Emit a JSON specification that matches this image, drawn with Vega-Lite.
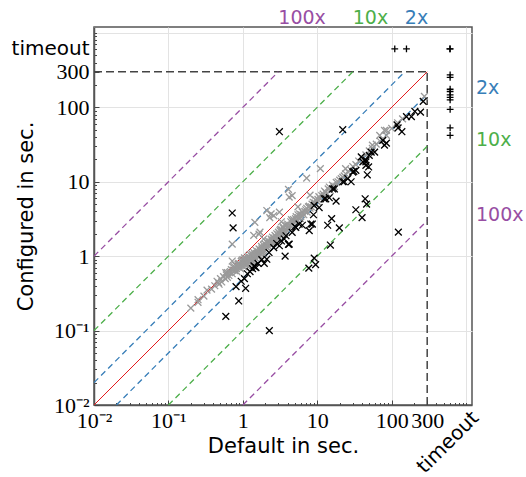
{
  "$schema": "https://vega.github.io/schema/vega-lite/v6.json",
  "width": 378,
  "height": 378,
  "autosize": {"type": "none"},
  "padding": {"left": 94, "top": 27, "right": 54, "bottom": 72},
  "background": "white",
  "config": {
    "view": {"stroke": "#555555", "strokeWidth": 1.5},
    "axis": {
      "domainColor": "#555555",
      "domainWidth": 1.5,
      "tickColor": "#444444",
      "tickWidth": 1,
      "gridColor": "#e3e3e3",
      "gridWidth": 1,
      "labelColor": "#000000",
      "labelFont": "Liberation Serif",
      "labelFontSize": 22,
      "labelOverlap": false,
      "labelFlush": false,
      "labelBound": false,
      "titleFont": "DejaVu Sans",
      "titleFontSize": 21,
      "titleFontWeight": "normal",
      "titleColor": "#000000"
    }
  },
  "datasets": {
    "lines": [
      {"g": "eq", "x": 0.01, "y": 0.01}, {"g": "eq", "x": 300, "y": 300},
      {"g": "b1", "x": 0.01, "y": 0.02}, {"g": "b1", "x": 150, "y": 300},
      {"g": "b2", "x": 0.02, "y": 0.01}, {"g": "b2", "x": 300, "y": 150},
      {"g": "g1", "x": 0.01, "y": 0.1}, {"g": "g1", "x": 30, "y": 300},
      {"g": "g2", "x": 0.1, "y": 0.01}, {"g": "g2", "x": 300, "y": 30},
      {"g": "p1", "x": 0.01, "y": 1}, {"g": "p1", "x": 3, "y": 300},
      {"g": "p2", "x": 1, "y": 0.01}, {"g": "p2", "x": 300, "y": 3},
      {"g": "h", "x": 0.01, "y": 300}, {"g": "h", "x": 300, "y": 300},
      {"g": "v", "x": 300, "y": 0.01}, {"g": "v", "x": 300, "y": 300}
    ],
    "lbl": [
      {"s": "100x", "x": 3, "y": 1200, "side": "top"},
      {"s": "10x", "x": 30, "y": 1200, "side": "top"},
      {"s": "2x", "x": 150, "y": 1200, "side": "top"},
      {"s": "2x", "x": 1200, "y": 150, "side": "right"},
      {"s": "10x", "x": 1200, "y": 30, "side": "right"},
      {"s": "100x", "x": 1200, "y": 3, "side": "right"}
    ],
    "tl": [{"t": "timeout", "x": 610, "y": 0.01}],
    "pts": [
      {"x":0.2,"y":0.2,"k":"g"},{"x":0.25,"y":0.24,"k":"g"},{"x":0.3,"y":0.29,"k":"g"},{"x":0.33,"y":0.35,"k":"g"},{"x":0.38,"y":0.36,"k":"g"},
      {"x":0.42,"y":0.4,"k":"g"},{"x":0.45,"y":0.46,"k":"g"},{"x":0.48,"y":0.42,"k":"g"},{"x":0.5,"y":0.5,"k":"g"},{"x":0.52,"y":0.45,"k":"g"},
      {"x":0.55,"y":0.53,"k":"g"},{"x":0.58,"y":0.5,"k":"g"},{"x":0.6,"y":0.56,"k":"g"},{"x":0.62,"y":0.6,"k":"g"},{"x":0.65,"y":0.55,"k":"g"},
      {"x":0.68,"y":0.62,"k":"g"},{"x":0.7,"y":0.66,"k":"g"},{"x":0.72,"y":0.58,"k":"g"},{"x":0.75,"y":0.7,"k":"g"},{"x":0.78,"y":0.64,"k":"g"},
      {"x":0.8,"y":0.75,"k":"g"},{"x":0.82,"y":0.68,"k":"g"},{"x":0.85,"y":0.72,"k":"g"},{"x":0.88,"y":0.8,"k":"g"},{"x":0.9,"y":0.7,"k":"g"},
      {"x":0.92,"y":0.78,"k":"g"},{"x":0.95,"y":0.85,"k":"g"},{"x":0.98,"y":0.75,"k":"g"},{"x":1.0,"y":0.9,"k":"g"},{"x":1.02,"y":0.8,"k":"g"},
      {"x":1.05,"y":0.95,"k":"g"},{"x":1.08,"y":0.85,"k":"g"},{"x":1.1,"y":0.78,"k":"g"},{"x":1.12,"y":0.92,"k":"g"},{"x":1.15,"y":0.88,"k":"g"},
      {"x":1.18,"y":1.0,"k":"g"},{"x":1.2,"y":0.9,"k":"g"},{"x":1.22,"y":0.82,"k":"g"},{"x":1.25,"y":1.05,"k":"g"},{"x":1.28,"y":0.95,"k":"g"},
      {"x":1.3,"y":0.88,"k":"g"},{"x":1.35,"y":1.0,"k":"g"},{"x":1.4,"y":1.12,"k":"g"},{"x":1.42,"y":0.98,"k":"g"},{"x":1.45,"y":1.05,"k":"g"},
      {"x":1.5,"y":1.2,"k":"g"},{"x":1.52,"y":1.08,"k":"g"},{"x":1.55,"y":1.0,"k":"g"},{"x":1.6,"y":1.15,"k":"g"},{"x":1.65,"y":1.25,"k":"g"},
      {"x":1.7,"y":1.1,"k":"g"},{"x":1.72,"y":1.2,"k":"g"},{"x":1.78,"y":1.35,"k":"g"},{"x":1.8,"y":1.25,"k":"g"},{"x":1.85,"y":1.18,"k":"g"},
      {"x":1.9,"y":1.4,"k":"g"},{"x":1.95,"y":1.3,"k":"g"},{"x":2.0,"y":1.45,"k":"g"},{"x":2.05,"y":1.35,"k":"g"},{"x":2.1,"y":1.55,"k":"g"},
      {"x":2.15,"y":1.4,"k":"g"},{"x":2.2,"y":1.6,"k":"g"},{"x":2.25,"y":1.5,"k":"g"},{"x":2.3,"y":1.45,"k":"g"},{"x":2.4,"y":1.7,"k":"g"},
      {"x":2.45,"y":1.6,"k":"g"},{"x":2.5,"y":1.8,"k":"g"},{"x":2.55,"y":1.65,"k":"g"},{"x":2.6,"y":1.55,"k":"g"},{"x":2.7,"y":1.9,"k":"g"},
      {"x":2.8,"y":1.8,"k":"g"},{"x":2.85,"y":2.0,"k":"g"},{"x":2.9,"y":1.7,"k":"g"},{"x":3.0,"y":2.1,"k":"g"},{"x":3.1,"y":2.0,"k":"g"},
      {"x":3.2,"y":2.3,"k":"g"},{"x":3.3,"y":2.1,"k":"g"},{"x":3.4,"y":1.95,"k":"g"},{"x":3.5,"y":2.4,"k":"g"},{"x":3.6,"y":2.25,"k":"g"},
      {"x":3.7,"y":2.6,"k":"g"},{"x":3.8,"y":2.3,"k":"g"},{"x":4.0,"y":2.7,"k":"g"},{"x":4.1,"y":2.5,"k":"g"},{"x":4.2,"y":2.3,"k":"g"},
      {"x":4.4,"y":2.9,"k":"g"},{"x":4.6,"y":2.7,"k":"g"},{"x":4.8,"y":3.1,"k":"g"},{"x":5.0,"y":2.9,"k":"g"},{"x":5.2,"y":3.4,"k":"g"},
      {"x":5.4,"y":3.0,"k":"g"},{"x":5.6,"y":3.3,"k":"g"},{"x":5.8,"y":3.7,"k":"g"},{"x":6.0,"y":3.4,"k":"g"},{"x":6.3,"y":3.9,"k":"g"},
      {"x":6.6,"y":3.6,"k":"g"},{"x":7.0,"y":4.2,"k":"g"},{"x":7.3,"y":3.9,"k":"g"},{"x":7.6,"y":4.6,"k":"g"},{"x":8.0,"y":4.4,"k":"g"},
      {"x":8.5,"y":5.0,"k":"g"},{"x":9.0,"y":4.8,"k":"g"},{"x":9.5,"y":5.7,"k":"g"},{"x":10,"y":5.4,"k":"g"},{"x":10.5,"y":6.3,"k":"g"},
      {"x":11,"y":5.9,"k":"g"},{"x":12,"y":6.8,"k":"g"},{"x":13,"y":7.2,"k":"g"},{"x":14,"y":8.0,"k":"g"},{"x":15,"y":7.6,"k":"g"},
      {"x":16,"y":9.0,"k":"g"},{"x":17,"y":8.6,"k":"g"},{"x":18,"y":9.8,"k":"g"},{"x":20,"y":10.5,"k":"g"},{"x":22,"y":11.5,"k":"g"},
      {"x":24,"y":12.8,"k":"g"},{"x":26,"y":13.5,"k":"g"},{"x":28,"y":14.5,"k":"g"},{"x":30,"y":16,"k":"g"},{"x":33,"y":17,"k":"g"},
      {"x":36,"y":19,"k":"g"},{"x":40,"y":21,"k":"g"},{"x":45,"y":23,"k":"g"},{"x":50,"y":26,"k":"g"},{"x":55,"y":28,"k":"g"},
      {"x":62,"y":32,"k":"g"},{"x":70,"y":35,"k":"g"},{"x":85,"y":42,"k":"g"},{"x":100,"y":52,"k":"g"},{"x":120,"y":62,"k":"g"},
      {"x":140,"y":70,"k":"g"},{"x":275,"y":140,"k":"g"},
      {"x":0.62,"y":0.52,"k":"g"},{"x":0.66,"y":0.6,"k":"g"},{"x":0.74,"y":0.65,"k":"g"},{"x":0.77,"y":0.72,"k":"g"},{"x":0.83,"y":0.62,"k":"g"},
      {"x":0.86,"y":0.78,"k":"g"},{"x":0.93,"y":0.68,"k":"g"},{"x":0.97,"y":0.88,"k":"g"},{"x":1.03,"y":0.72,"k":"g"},{"x":1.07,"y":0.9,"k":"g"},
      {"x":1.13,"y":0.75,"k":"g"},{"x":1.17,"y":0.95,"k":"g"},{"x":1.21,"y":0.74,"k":"g"},{"x":1.27,"y":0.85,"k":"g"},{"x":1.32,"y":1.08,"k":"g"},
      {"x":1.37,"y":0.9,"k":"g"},{"x":1.43,"y":0.85,"k":"g"},{"x":1.48,"y":0.95,"k":"g"},{"x":1.56,"y":1.1,"k":"g"},{"x":1.62,"y":0.98,"k":"g"},
      {"x":1.68,"y":1.02,"k":"g"},{"x":1.75,"y":1.15,"k":"g"},{"x":1.83,"y":1.3,"k":"g"},{"x":1.88,"y":1.1,"k":"g"},{"x":1.93,"y":1.2,"k":"g"},
      {"x":2.02,"y":1.25,"k":"g"},{"x":2.12,"y":1.3,"k":"g"},{"x":2.18,"y":1.48,"k":"g"},{"x":2.35,"y":1.55,"k":"g"},{"x":2.42,"y":1.4,"k":"g"},
      {"x":2.52,"y":1.5,"k":"g"},{"x":2.65,"y":1.75,"k":"g"},{"x":2.75,"y":1.6,"k":"g"},{"x":2.95,"y":1.95,"k":"g"},{"x":3.05,"y":1.8,"k":"g"},
      {"x":3.15,"y":2.2,"k":"g"},{"x":3.35,"y":2.25,"k":"g"},{"x":3.45,"y":2.5,"k":"g"},{"x":3.65,"y":2.1,"k":"g"},{"x":3.9,"y":2.6,"k":"g"},
      {"x":4.3,"y":2.6,"k":"g"},{"x":4.5,"y":3.1,"k":"g"},{"x":4.7,"y":2.9,"k":"g"},{"x":5.1,"y":3.2,"k":"g"},{"x":5.5,"y":3.6,"k":"g"},
      {"x":5.9,"y":3.2,"k":"g"},{"x":6.2,"y":3.6,"k":"g"},{"x":6.8,"y":4.0,"k":"g"},{"x":7.2,"y":4.4,"k":"g"},{"x":7.8,"y":4.7,"k":"g"},
      {"x":8.3,"y":4.6,"k":"g"},{"x":8.8,"y":5.3,"k":"g"},{"x":9.3,"y":5.2,"k":"g"},{"x":10.2,"y":5.8,"k":"g"},{"x":11.5,"y":6.5,"k":"g"},
      {"x":12.5,"y":7.5,"k":"g"},{"x":13.5,"y":6.9,"k":"g"},{"x":14.5,"y":8.5,"k":"g"},{"x":16.5,"y":8.2,"k":"g"},{"x":19,"y":10,"k":"g"},
      {"x":21,"y":11,"k":"g"},{"x":23,"y":12,"k":"g"},{"x":1.9,"y":1.7,"k":"g"},{"x":3.3,"y":2.9,"k":"g"},{"x":5.5,"y":4.6,"k":"g"},
      {"x":8,"y":6.6,"k":"g"},
      {"x":11,"y":15,"k":"g"},{"x":7.2,"y":11.2,"k":"g"},{"x":4.1,"y":7.9,"k":"g"},{"x":4.6,"y":6.5,"k":"g"},{"x":2.4,"y":3.7,"k":"g"},
      {"x":2.3,"y":3.3,"k":"g"},{"x":3.1,"y":3.9,"k":"g"},{"x":1.4,"y":1.9,"k":"g"},{"x":1.7,"y":2.1,"k":"g"},{"x":0.72,"y":1.45,"k":"g"},
      {"x":0.47,"y":0.44,"k":"g"},{"x":0.59,"y":0.6,"k":"g"},{"x":0.72,"y":0.86,"k":"g"},{"x":0.88,"y":0.74,"k":"g"},{"x":24,"y":15,"k":"g"},
      {"x":85,"y":49,"k":"g"},{"x":69,"y":42,"k":"g"},{"x":55,"y":31,"k":"g"},{"x":80,"y":49,"k":"g"},{"x":0.25,"y":0.26,"k":"g"},
      {"x":1.45,"y":2.85,"k":"g"},{"x":1.65,"y":1.98,"k":"g"},{"x":4.2,"y":6.2,"k":"g"},{"x":2.1,"y":4.1,"k":"g"},{"x":2.6,"y":3.5,"k":"g"},
      {"x":3.1,"y":47,"k":"b"},{"x":22,"y":50,"k":"b"},{"x":0.72,"y":3.8,"k":"b"},{"x":0.74,"y":2.4,"k":"b"},{"x":0.59,"y":0.155,"k":"b"},
      {"x":0.88,"y":0.25,"k":"b"},{"x":0.81,"y":0.39,"k":"b"},{"x":1.09,"y":0.37,"k":"b"},{"x":0.95,"y":0.46,"k":"b"},{"x":2.27,"y":0.1,"k":"b"},
      {"x":3.7,"y":1.0,"k":"b"},{"x":1.41,"y":0.74,"k":"b"},{"x":1.94,"y":0.8,"k":"b"},{"x":2.1,"y":0.91,"k":"b"},{"x":2.25,"y":1.12,"k":"b"},
      {"x":2.85,"y":1.48,"k":"b"},{"x":4.1,"y":1.44,"k":"b"},{"x":3.8,"y":1.88,"k":"b"},{"x":4.6,"y":2.09,"k":"b"},{"x":5.15,"y":2.44,"k":"b"},
      {"x":5.7,"y":2.7,"k":"b"},{"x":7.8,"y":2.2,"k":"b"},{"x":8.6,"y":2.7,"k":"b"},{"x":8.9,"y":3.6,"k":"b"},{"x":9.1,"y":4.8,"k":"b"},
      {"x":12.4,"y":5.9,"k":"b"},{"x":14.5,"y":6.1,"k":"b"},{"x":17.9,"y":5.5,"k":"b"},{"x":13.8,"y":2.6,"k":"b"},{"x":15.6,"y":3.2,"k":"b"},
      {"x":19.8,"y":2.4,"k":"b"},{"x":15,"y":1.41,"k":"b"},{"x":9.1,"y":0.94,"k":"b"},{"x":9.5,"y":0.77,"k":"b"},{"x":7.7,"y":0.69,"k":"b"},
      {"x":16.1,"y":8.0,"k":"b"},{"x":22,"y":10,"k":"b"},{"x":25.7,"y":11,"k":"b"},{"x":31,"y":13.8,"k":"b"},{"x":33,"y":4.2,"k":"b"},
      {"x":40,"y":3.3,"k":"b"},{"x":44,"y":5.9,"k":"b"},{"x":46,"y":5.0,"k":"b"},{"x":47,"y":12.4,"k":"b"},{"x":45,"y":18.5,"k":"b"},
      {"x":41,"y":18.5,"k":"b"},{"x":53,"y":25,"k":"b"},{"x":49,"y":15.8,"k":"b"},{"x":39,"y":21.6,"k":"b"},{"x":76,"y":36,"k":"b"},
      {"x":85,"y":33,"k":"b"},{"x":80,"y":31,"k":"b"},{"x":122,"y":53,"k":"b"},{"x":118,"y":58,"k":"b"},{"x":137,"y":47,"k":"b"},
      {"x":158,"y":75,"k":"b"},{"x":184,"y":75,"k":"b"},{"x":205,"y":88,"k":"b"},{"x":244,"y":86,"k":"b"},{"x":265,"y":120,"k":"b"},
      {"x":123,"y":2.1,"k":"b"},{"x":3.1,"y":1.38,"k":"b"},{"x":3.6,"y":1.7,"k":"b"},{"x":4.2,"y":1.45,"k":"b"},{"x":6.3,"y":2.6,"k":"b"},
      {"x":8.2,"y":2.7,"k":"b"},{"x":10.6,"y":4.5,"k":"b"},{"x":13,"y":5.9,"k":"b"},{"x":17,"y":8,"k":"b"},{"x":23,"y":10,"k":"b"},
      {"x":28.5,"y":10,"k":"b"},{"x":30,"y":13.5,"k":"b"},{"x":33,"y":14.2,"k":"b"},{"x":45,"y":19.5,"k":"b"},{"x":50,"y":22.6,"k":"b"},
      {"x":45,"y":16.6,"k":"b"},{"x":59,"y":25,"k":"b"},{"x":1.45,"y":0.72,"k":"b"},{"x":1.5,"y":0.7,"k":"b"},{"x":1.35,"y":0.68,"k":"b"},
      {"x":1.6,"y":0.8,"k":"b"},{"x":1.25,"y":0.62,"k":"b"},{"x":1.15,"y":0.58,"k":"b"},{"x":1.05,"y":0.5,"k":"b"},{"x":1.8,"y":0.9,"k":"b"},
      {"x":2.6,"y":1.3,"k":"b"},{"x":3.3,"y":1.6,"k":"b"},{"x":5,"y":2.5,"k":"b"},
      {"x":110,"y":610,"k":"t"},{"x":158,"y":610,"k":"t"},{"x":610,"y":610,"k":"t"},{"x":605,"y":610,"k":"t"},
      {"x":610,"y":273,"k":"t"},{"x":610,"y":252,"k":"t"},{"x":610,"y":175,"k":"t"},{"x":610,"y":163,"k":"t"},{"x":610,"y":147,"k":"t"},
      {"x":610,"y":136,"k":"t"},{"x":610,"y":126,"k":"t"},{"x":610,"y":94,"k":"t"},{"x":610,"y":53,"k":"t"},{"x":610,"y":42,"k":"t"}
    ]
  },
  "encoding": {
    "x": {
      "field": "x",
      "type": "quantitative",
      "scale": {"type": "log", "domain": [0.01, 1200], "nice": false},
      "axis": {
        "title": "Default in sec.",
        "titleY": 47,
        "titleBaseline": "alphabetic",
        "values": [0.01,0.02,0.03,0.04,0.05,0.06,0.07,0.08,0.09,0.1,0.2,0.3,0.4,0.5,0.6,0.7,0.8,0.9,1,2,3,4,5,6,7,8,9,10,20,30,40,50,60,70,80,90,100,200,300,400,500,600,700,800,900,1000],
        "labelExpr": "datum.value === 0.01 ? '10⁻²' : datum.value === 0.1 ? '10⁻¹' : datum.value === 1 ? '1' : datum.value === 10 ? '10' : datum.value === 100 ? '100' : datum.value === 300 ? '300' : ''",
        "labelPadding": 10,
        "grid": true,
        "gridOpacity": {"condition": {"test": "indexof([0.01,0.1,1,10,100,1000], datum.value) >= 0", "value": 1}, "value": 0},
        "tickSize": {"condition": {"test": "indexof([0.01,0.1,1,10,100,300], datum.value) >= 0", "value": -5}, "value": -2.5}
      }
    },
    "y": {
      "field": "y",
      "type": "quantitative",
      "scale": {"type": "log", "domain": [0.01, 1200], "nice": false},
      "axis": {
        "title": "Configured in sec.",
        "titleX": -62,
        "titleY": 189,
        "titleAngle": 270,
        "titleAlign": "center",
        "titleBaseline": "alphabetic",
        "values": [0.01,0.02,0.03,0.04,0.05,0.06,0.07,0.08,0.09,0.1,0.2,0.3,0.4,0.5,0.6,0.7,0.8,0.9,1,2,3,4,5,6,7,8,9,10,20,30,40,50,60,70,80,90,100,200,300,400,500,600,610,700,800,900,1000],
        "labelExpr": "datum.value === 0.01 ? '10⁻²' : datum.value === 0.1 ? '10⁻¹' : datum.value === 1 ? '1' : datum.value === 10 ? '10' : datum.value === 100 ? '100' : datum.value === 300 ? '300' : datum.value === 610 ? 'timeout' : ''",
        "labelPadding": 10,
        "labelFont": {"condition": {"test": "datum.value === 610", "value": "DejaVu Sans"}, "value": "Liberation Serif"},
        "labelFontSize": {"condition": {"test": "datum.value === 610", "value": 20}, "value": 22},
        "grid": true,
        "gridOpacity": {"condition": {"test": "indexof([0.01,0.1,1,10,100,1000], datum.value) >= 0", "value": 1}, "value": 0},
        "tickOpacity": {"condition": {"test": "datum.value === 610", "value": 0}, "value": 1},
        "tickSize": {"condition": {"test": "indexof([0.01,0.1,1,10,100,300,610], datum.value) >= 0", "value": -5}, "value": -2.5}
      }
    }
  },
  "resolve": {"scale": {"color": "independent", "shape": "independent"}},
  "layer": [
    {
      "data": {"name": "lines"},
      "transform": [{"filter": "datum.g === 'h' || datum.g === 'v'"}],
      "mark": {"type": "line", "color": "#444444", "strokeWidth": 1.5, "strokeDash": [8, 4]},
      "encoding": {"detail": {"field": "g"}}
    },
    {
      "data": {"name": "lines"},
      "transform": [{"filter": "datum.g !== 'h' && datum.g !== 'v' && datum.g !== 'eq'"}],
      "mark": {"type": "line", "strokeWidth": 1.3, "strokeDash": [6, 4]},
      "encoding": {
        "detail": {"field": "g"},
        "color": {"field": "g", "type": "nominal", "scale": {"domain": ["b1","b2","g1","g2","p1","p2"], "range": ["#377eb8","#377eb8","#4daf4a","#4daf4a","#984ea3","#984ea3"]}, "legend": null}
      }
    },
    {
      "data": {"name": "lines"},
      "transform": [{"filter": "datum.g === 'eq'"}],
      "mark": {"type": "line", "color": "#e41a1c", "strokeWidth": 1},
      "encoding": {}
    },
    {
      "data": {"name": "pts"},
      "mark": {"type": "point", "filled": false, "strokeWidth": 1.3, "opacity": 1, "size": 46},
      "encoding": {
        "shape": {"field": "k", "type": "nominal", "scale": {"domain": ["g","b","t"], "range": ["M-1,-1L1,1M-1,1L1,-1","M-1,-1L1,1M-1,1L1,-1","M-1,0L1,0M0,-1L0,1"]}, "legend": null},
        "color": {"field": "k", "type": "nominal", "scale": {"domain": ["g","b","t"], "range": ["#9a9a9a","#000000","#000000"]}, "legend": null}
      }
    },
    {
      "data": {"name": "lbl"},
      "transform": [{"filter": "datum.side === 'top'"}],
      "mark": {"type": "text", "align": "left", "baseline": "alphabetic", "dy": -3, "font": "DejaVu Sans", "fontSize": 19},
      "encoding": {
        "text": {"field": "s"},
        "color": {"field": "s", "type": "nominal", "scale": {"domain": ["2x","10x","100x"], "range": ["#377eb8","#4daf4a","#984ea3"]}, "legend": null}
      }
    },
    {
      "data": {"name": "lbl"},
      "transform": [{"filter": "datum.side === 'right'"}],
      "mark": {"type": "text", "align": "left", "baseline": "alphabetic", "dx": 4, "font": "DejaVu Sans", "fontSize": 19},
      "encoding": {
        "text": {"field": "s"},
        "color": {"field": "s", "type": "nominal", "scale": {"domain": ["2x","10x","100x"], "range": ["#377eb8","#4daf4a","#984ea3"]}, "legend": null}
      }
    },
    {
      "data": {"name": "tl"},
      "mark": {"type": "text", "angle": 315, "align": "center", "baseline": "middle", "dx": -28, "dy": 25, "font": "DejaVu Sans", "fontSize": 20, "color": "#000000"},
      "encoding": {"text": {"field": "t"}}
    }
  ]
}
